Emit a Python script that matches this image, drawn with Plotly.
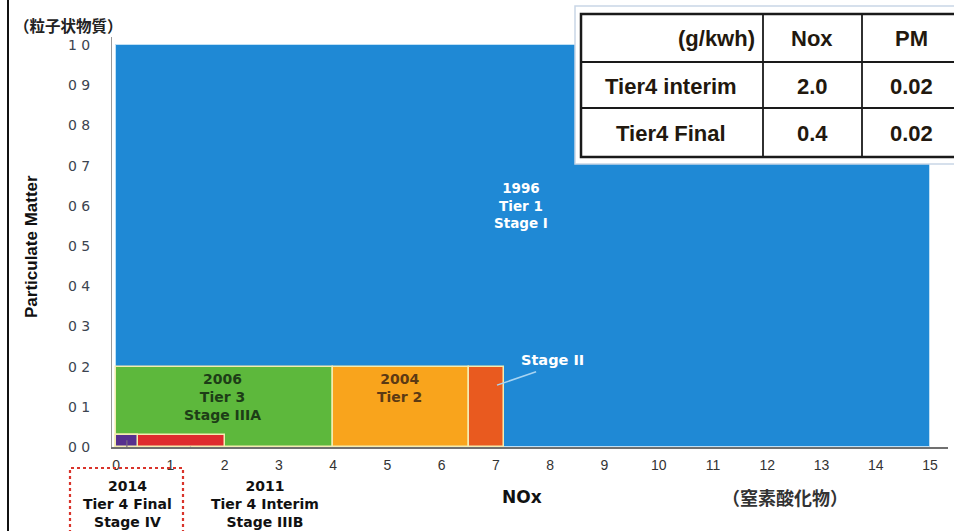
import plotly.graph_objects as go

# ---- data ----
stages = ["1996 Tier 1 / Stage I", "2006 Tier 3 / Stage IIIA", "2004 Tier 2",
          "Stage II", "2011 Tier 4 Interim / Stage IIIB", "2014 Tier 4 Final / Stage IV"]
nox_start = [0.0, 0.0, 4.0, 6.5, 0.0, 0.0]
nox_end = [15.0, 4.0, 6.5, 7.15, 2.0, 0.4]
pm_limit = [1.0, 0.2, 0.2, 0.2, 0.03, 0.03]
colors = ["#1f89d5", "#5db83c", "#f9a41c", "#e95a1f", "#de2b2e", "#56308e"]

x_ticks = list(range(0, 16))
y_ticks = [i / 10 for i in range(0, 11)]
y_tick_text = ["0 0", "0 1", "0 2", "0 3", "0 4", "0 5", "0 6", "0 7", "0 8", "0 9", "1 0"]

table_header = ["(g/kwh)", "Nox", "PM"]
table_rows = [["Tier4 interim", "2.0", "0.02"],
              ["Tier4 Final", "0.4", "0.02"]]

# ---- layout constants (pixels of the 954x531 page) ----
W, H = 954, 531
L, R, T, B = 112, 6, 37, 84
PW, PH = W - L - R, H - T - B


def px(xp):
    return (xp - L) / PW


def py(yp):
    return (H - B - yp) / PH


fig = go.Figure()
for i, name in enumerate(stages):
    fig.add_trace(go.Bar(
        x=[(nox_start[i] + nox_end[i]) / 2], y=[pm_limit[i]], base=0,
        width=[nox_end[i] - nox_start[i]], name=name,
        marker=dict(color=colors[i],
                    line=dict(color="#bfe0f5" if i == 0 else "#f3ecb0", width=1 if i == 0 else 1.5)),
        showlegend=False, hoverinfo="skip"))

shapes = []
annotations = []

# scan border on the left
shapes.append(dict(type="line", xref="paper", yref="paper", x0=px(8), x1=px(8), y0=py(0), y1=py(531),
                   line=dict(color="#111", width=2)))

# leader lines
shapes.append(dict(type="line", xref="x", yref="y", x0=7.02, y0=0.154, x1=7.74, y1=0.187,
                   line=dict(color="#a8d4f2", width=1.5)))
shapes.append(dict(type="line", xref="x", yref="y", x0=0.2, y0=0.017, x1=0.2, y1=-0.062,
                   line=dict(color="#7a6a80", width=1.2)))
shapes.append(dict(type="line", xref="x", yref="y", x0=1.36, y0=0.0, x1=1.77, y1=-0.022,
                   line=dict(color="#7f8a99", width=1.2)))
shapes.append(dict(type="line", xref="x", yref="y", x0=2.19, y0=-0.047, x1=2.63, y1=-0.075,
                   line=dict(color="#7f8a99", width=1.2)))

# red dotted box around Tier 4 Final
shapes.append(dict(type="rect", xref="paper", yref="paper", x0=px(70), x1=px(183), y0=py(540), y1=py(468),
                   line=dict(color="#d9342b", width=2.2, dash="dot")))

# table frame
shapes.append(dict(type="rect", xref="paper", yref="paper", x0=px(575), x1=px(962), y0=py(164), y1=py(6),
                   fillcolor="white", line=dict(color="#c9d6e6", width=1.5), layer="above"))
shapes.append(dict(type="rect", xref="paper", yref="paper", x0=px(581), x1=px(960), y0=py(157), y1=py(14),
                   fillcolor="white", line=dict(color="#1a1a1a", width=2.5), layer="above"))
for xp in (763, 862):
    shapes.append(dict(type="line", xref="paper", yref="paper", x0=px(xp), x1=px(xp), y0=py(157), y1=py(14),
                       line=dict(color="#1a1a1a", width=1.8), layer="above"))
for yp in (62, 108):
    shapes.append(dict(type="line", xref="paper", yref="paper", x0=px(581), x1=px(960), y0=py(yp), y1=py(yp),
                       line=dict(color="#1a1a1a", width=1.8), layer="above"))


def ann(x, y, text, font, xref="x", yref="y", xanchor="center", **kw):
    d = dict(xref=xref, yref=yref, x=x, y=y, text=text, showarrow=False, font=font,
             xanchor=xanchor, yanchor="middle")
    d.update(kw)
    return d


tfont = dict(family="Liberation Sans, Arial, sans-serif", size=22, color="#22180e", weight="bold")
col_x = [None, px(812), px(911)]
row_y = [py(38), py(86), py(133)]
annotations.append(ann(px(757), row_y[0], table_header[0], tfont, "paper", "paper", xanchor="right"))
for c in (1, 2):
    annotations.append(ann(col_x[c], row_y[0], table_header[c], tfont, "paper", "paper"))
for r, row in enumerate(table_rows):
    annotations.append(ann(px(671), row_y[r + 1], row[0], tfont, "paper", "paper"))
    for c in (1, 2):
        annotations.append(ann(col_x[c], row_y[r + 1], row[c], tfont, "paper", "paper"))

bfont = "Liberation Sans, Arial, sans-serif"
wfont = "DejaVu Sans, Verdana, sans-serif"
annotations += [
    ann(7.46, 0.602, "1996<br>Tier 1<br>Stage I",
        dict(family=wfont, size=13.5, color="white", weight="bold")),
    ann(1.97, 0.124, "2006<br>Tier 3<br>Stage IIIA",
        dict(family=wfont, size=14, color="#1d3d17", weight="bold")),
    ann(5.23, 0.146, "2004<br>Tier 2",
        dict(family=wfont, size=14, color="#5c3a14", weight="bold")),
    ann(8.05, 0.216, "Stage II",
        dict(family=wfont, size=14.5, color="white", weight="bold")),
    ann(0.21, py(504), "2014<br>Tier 4 Final<br>Stage IV",
        dict(family=wfont, size=14, color="#111", weight="bold"), yref="paper"),
    ann(2.75, py(504), "2011<br>Tier 4 Interim<br>Stage IIIB",
        dict(family=wfont, size=14, color="#111", weight="bold"), yref="paper"),
    ann(7.48, py(497), "NOx",
        dict(family=wfont, size=17, color="#111", weight="bold"), yref="paper"),
    ann(12.33, py(497), "（窒素酸化物）",
        dict(family="Noto Sans CJK JP", size=18, color="#333", weight="bold"), yref="paper"),
    ann(px(68), py(25), "（粒子状物質）",
        dict(family="Noto Sans CJK JP", size=15.5, color="#222", weight="bold"), "paper", "paper"),
    ann(px(31), py(247), "Particulate Matter",
        dict(family=bfont, size=17, color="#111", weight="bold"), "paper", "paper", textangle=-90),
]

fig.update_layout(
    width=W, height=H,
    margin=dict(l=L, r=R, t=T, b=B),
    paper_bgcolor="white", plot_bgcolor="white",
    barmode="overlay", bargap=0,
    shapes=shapes, annotations=annotations,
    xaxis=dict(range=[-0.074, 15.33], tickvals=x_ticks, ticktext=[str(v) for v in x_ticks],
               showgrid=False, zeroline=False, showline=True, linecolor="#707070", linewidth=1.5,
               ticks="outside", ticklen=4, tickcolor="rgba(0,0,0,0)",
               tickfont=dict(family=bfont, size=14, color="#333")),
    yaxis=dict(range=[0, 1.02], tickvals=y_ticks, ticktext=y_tick_text,
               showgrid=False, zeroline=False, showline=True, linecolor="#9a9a9a", linewidth=1,
               ticks="outside", ticklen=18, tickcolor="rgba(0,0,0,0)",
               tickfont=dict(family=wfont, size=14, color="#3c4450")),
)

fig.write_html("out.html")
